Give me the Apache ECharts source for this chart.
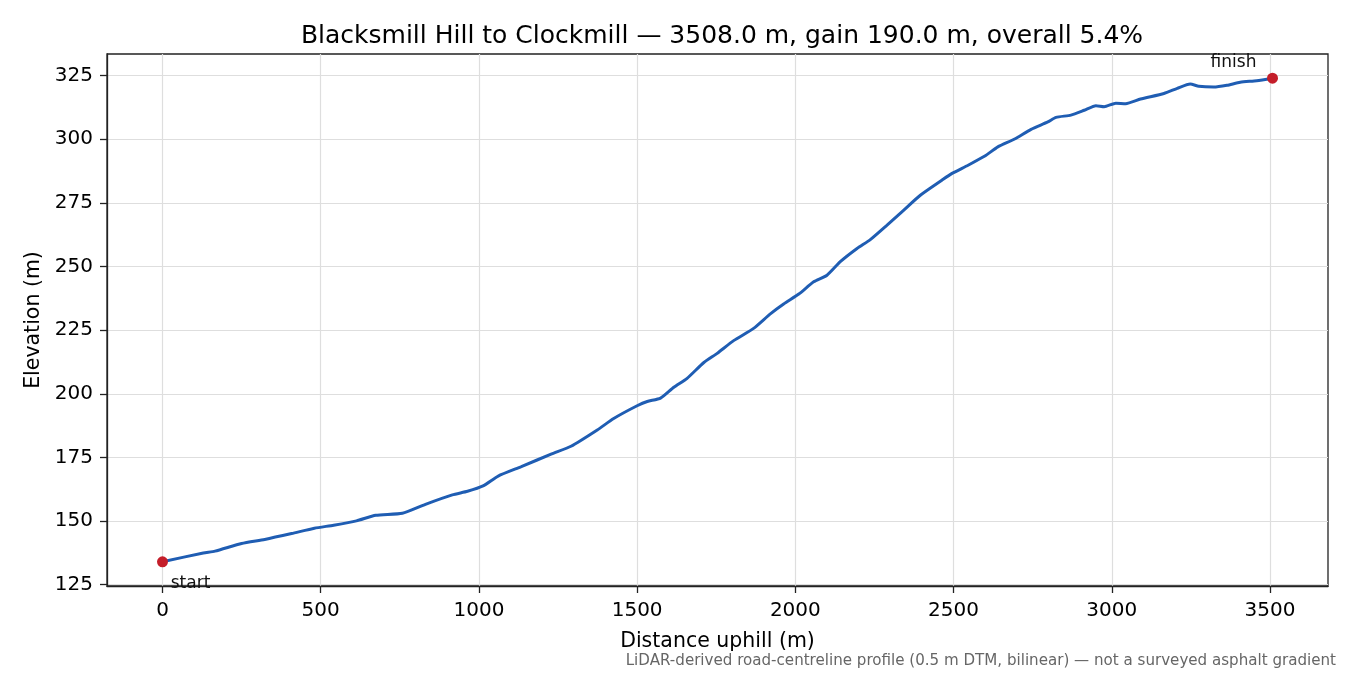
<!DOCTYPE html>
<html>
<head>
<meta charset="utf-8">
<script src="https://cdn.jsdelivr.net/npm/echarts@6/dist/echarts.min.js"></script>
<style>
  html, body { margin: 0; padding: 0; background: #fff; }
  #main { width: 1350px; height: 675px; }
</style>
</head>
<body>
<div id="main"></div>
<script>
// elevation profile
var distance = [0, 129, 166, 250, 323, 408, 480, 541, 613, 674, 758, 831, 916, 964, 1013, 1061, 1134, 1230, 1291,
  1374, 1426, 1500, 1532, 1574, 1616, 1658, 1711, 1753, 1805, 1868, 1921, 1963, 2011, 2058, 2100, 2142, 2195,
  2237, 2289, 2342, 2395, 2463, 2494, 2546, 2599, 2640, 2693, 2745, 2798, 2824, 2871, 2913, 2950, 2976, 3013,
  3044, 3091, 3165, 3207, 3248, 3275, 3322, 3364, 3406, 3458, 3508];
var elevation = [134.0, 137.5, 138.2, 141.2, 142.8, 145.1, 147.2, 148.4, 150.1, 152.3, 153.1, 156.6, 160.3, 161.7,
  163.8, 167.7, 171.4, 176.4, 179.4, 185.8, 190.3, 195.3, 197.0, 198.3, 202.6, 206.1, 212.3, 215.9, 220.9, 225.7,
  231.4, 235.3, 239.2, 244.0, 246.6, 251.9, 257.1, 260.6, 266.2, 272.1, 278.0, 283.9, 286.5, 289.8, 293.4, 297.0,
  300.1, 303.9, 306.8, 308.6, 309.5, 311.4, 313.2, 312.8, 314.2, 314.0, 315.8, 318.0, 320.0, 321.7, 320.8, 320.5,
  321.2, 322.4, 323.0, 324.0];
var xTicks = [0, 500, 1000, 1500, 2000, 2500, 3000, 3500];
var yTicks = [125, 150, 175, 200, 225, 250, 275, 300, 325];
var endLabels = ['start', 'finish'];

var font = 'DejaVu Sans';
var profile = distance.map(function(d, i) { return [d, elevation[i]]; });
var last = distance.length - 1;

var chart = echarts.init(document.getElementById('main'));
var option = {
  backgroundColor: '#fff',
  animation: false,
  title: {
    text: 'Blacksmill Hill to Clockmill — 3508.0 m, gain 190.0 m, overall 5.4%',
    left: 717, top: 19, textAlign: 'center',
    textStyle: { fontFamily: font, fontSize: 25, fontWeight: 'normal', color: '#000' }
  },
  graphic: [{
    type: 'text', right: 14, top: 654,
    style: {
      text: 'LiDAR-derived road-centreline profile (0.5 m DTM, bilinear) — not a surveyed asphalt gradient',
      fontFamily: font, fontSize: 15.1, fill: '#666'
    }
  }],
  grid: {
    left: 107, right: 22, top: 54, bottom: 89,
    show: true, borderColor: '#222', borderWidth: 1.3
  },
  xAxis: {
    type: 'value', min: -175.4, max: 3683.4,
    name: 'Distance uphill (m)', nameLocation: 'middle', nameGap: 45,
    nameTextStyle: { fontFamily: font, fontSize: 20.5, color: '#000' },
    axisLine: { show: true, onZero: false, lineStyle: { color: '#222', width: 1.3 } },
    axisTick: { show: true, length: 7, lineStyle: { color: '#222', width: 1.3 }, customValues: xTicks },
    axisLabel: {
      fontFamily: font, fontSize: 20, color: '#000', margin: 15, customValues: xTicks,
      formatter: function(v) { return String(v); }
    },
    splitLine: { show: true, lineStyle: { color: '#dedede', width: 1.2 } }
  },
  yAxis: {
    type: 'value', min: 124.5, max: 333.5,
    name: 'Elevation (m)', nameLocation: 'middle', nameGap: 62, nameRotate: 90,
    nameTextStyle: { fontFamily: font, fontSize: 20.5, color: '#000' },
    axisLine: { show: true, onZero: false, lineStyle: { color: '#222', width: 1.3 } },
    axisTick: { show: true, length: 7, lineStyle: { color: '#222', width: 1.3 }, customValues: yTicks },
    axisLabel: {
      fontFamily: font, fontSize: 20, color: '#000', margin: 14, customValues: yTicks,
      formatter: function(v) { return String(v); }
    },
    splitLine: { show: true, lineStyle: { color: '#dedede', width: 1.2 } }
  },
  series: [{
    type: 'line',
    data: profile,
    showSymbol: false,
    smooth: 0.2,
    lineStyle: { color: '#1f5db3', width: 3 },
    z: 2
  }, {
    type: 'scatter',
    symbolSize: 11,
    itemStyle: { color: '#c41e2a', opacity: 1 },
    z: 3,
    label: { show: true, fontFamily: font, fontSize: 17, color: '#111', formatter: '{b}' },
    data: [
      { name: endLabels[0], value: profile[0], label: { position: 'bottom', offset: [28, 3] } },
      { name: endLabels[1], value: profile[last], label: { position: 'top', offset: [-39, 3] } }
    ]
  }]
};
chart.setOption(option);
</script>
</body>
</html>
